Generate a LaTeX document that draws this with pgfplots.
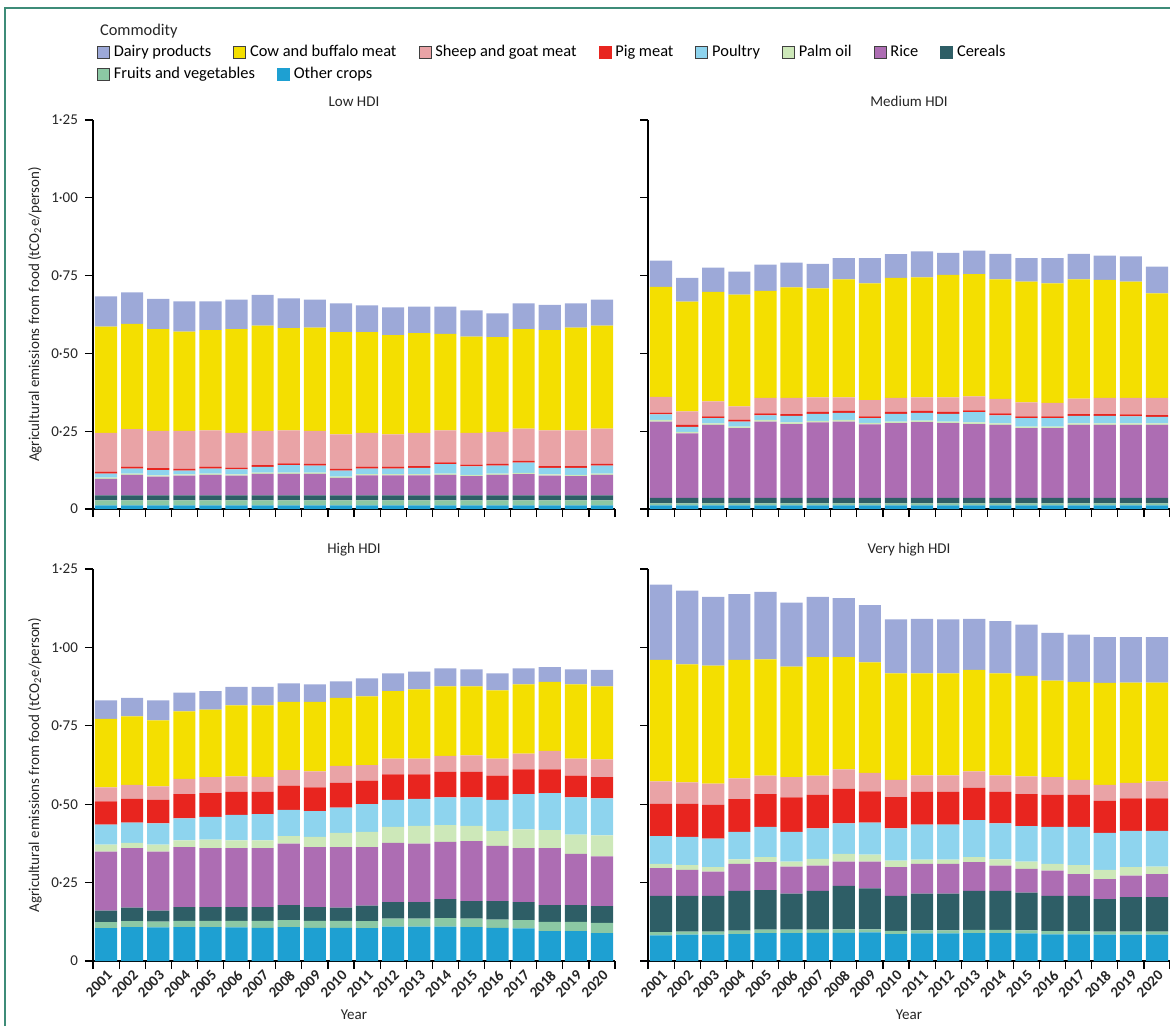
\documentclass[border=0pt]{standalone}
\usepackage{fontspec}
\setmainfont{Carlito}
\usepackage{pgfplots}
\usepackage{pgfplotstable}
\pgfplotsset{compat=1.18}

\definecolor{cDairy}{HTML}{9DA9D8}
\definecolor{cCow}{HTML}{F4DF00}
\definecolor{cSheep}{HTML}{E9A3A6}
\definecolor{cPig}{HTML}{E8251F}
\definecolor{cPoultry}{HTML}{8ED4EE}
\definecolor{cPalm}{HTML}{CDE8B9}
\definecolor{cRice}{HTML}{AD6DB3}
\definecolor{cCereals}{HTML}{2E5E66}
\definecolor{cFruit}{HTML}{8CC8A4}
\definecolor{cOther}{HTML}{1EA0D2}
\definecolor{frame}{HTML}{3E8C78}

\newcommand\chartfont{\fontsize{7.5}{9}\selectfont}
\newcommand\legfont{\fontsize{8.2}{9.5}\selectfont}

\pgfplotstableread{
x other fruit cereal rice palm poultry pig sheep cow dairy
1 .012 .016 .016 .053 .004 .013 .006 .125 .341 .097
2 .012 .016 .016 .066 .004 .016 .006 .121 .338 .101
3 .012 .016 .016 .060 .004 .017 .006 .120 .327 .097
4 .012 .016 .016 .063 .004 .012 .006 .122 .319 .097
5 .012 .016 .016 .066 .004 .016 .006 .117 .322 .092
6 .012 .016 .016 .063 .004 .016 .006 .112 .333 .095
7 .012 .016 .016 .069 .004 .018 .006 .110 .338 .099
8 .012 .016 .016 .069 .004 .024 .006 .106 .328 .096
9 .012 .016 .016 .069 .004 .022 .006 .106 .332 .090
10 .012 .016 .016 .056 .004 .019 .006 .111 .328 .093
11 .012 .016 .016 .064 .004 .018 .006 .109 .323 .086
12 .012 .016 .016 .064 .004 .018 .006 .104 .319 .089
13 .012 .016 .016 .064 .004 .020 .006 .107 .320 .085
14 .012 .016 .016 .066 .004 .030 .006 .103 .310 .087
15 .012 .016 .016 .062 .004 .027 .006 .102 .309 .084
16 .012 .016 .016 .066 .004 .025 .006 .103 .304 .077
17 .012 .016 .016 .068 .004 .033 .006 .103 .320 .083
18 .012 .016 .016 .063 .004 .021 .006 .115 .322 .081
19 .012 .016 .016 .062 .004 .022 .006 .115 .330 .078
20 .012 .016 .016 .066 .004 .025 .006 .113 .331 .084
}\tabLow

\pgfplotstableread{
x other fruit cereal rice palm poultry pig sheep cow dairy
1 .012 .006 .018 .245 .005 .018 .006 .050 .354 .084
2 .012 .006 .018 .207 .005 .016 .006 .044 .352 .077
3 .012 .006 .018 .234 .005 .017 .006 .048 .352 .078
4 .012 .006 .018 .224 .005 .016 .006 .043 .359 .074
5 .012 .006 .018 .245 .005 .015 .006 .050 .344 .084
6 .012 .006 .018 .237 .005 .021 .006 .052 .355 .080
7 .012 .006 .018 .242 .005 .023 .006 .047 .350 .079
8 .012 .006 .018 .245 .005 .023 .006 .044 .379 .068
9 .012 .006 .018 .236 .005 .015 .006 .052 .375 .081
10 .012 .006 .018 .240 .005 .025 .006 .045 .386 .076
11 .012 .006 .018 .243 .005 .025 .006 .044 .385 .084
12 .012 .006 .018 .240 .005 .025 .006 .047 .393 .071
13 .012 .006 .018 .237 .005 .033 .006 .045 .393 .075
14 .012 .006 .018 .234 .005 .026 .006 .047 .384 .082
15 .012 .006 .018 .224 .005 .027 .006 .045 .388 .075
16 .012 .006 .018 .224 .005 .027 .006 .043 .384 .081
17 .012 .006 .018 .234 .005 .024 .006 .050 .383 .082
18 .012 .006 .018 .234 .005 .024 .006 .052 .379 .078
19 .012 .006 .018 .234 .005 .023 .006 .053 .374 .081
20 .012 .006 .018 .234 .005 .021 .006 .055 .336 .086
}\tabMed

\pgfplotstableread{
x other fruit cereal rice palm poultry pig sheep cow dairy
1 .105 .019 .037 .188 .022 .064 .074 .045 .218 .059
2 .108 .019 .043 .190 .017 .064 .076 .045 .218 .059
3 .107 .019 .035 .188 .022 .068 .075 .043 .210 .064
4 .108 .020 .044 .191 .022 .070 .077 .049 .215 .060
5 .108 .020 .044 .188 .027 .073 .075 .051 .216 .059
6 .107 .021 .044 .188 .025 .081 .073 .050 .226 .059
7 .106 .022 .044 .188 .025 .083 .071 .048 .228 .059
8 .108 .022 .048 .196 .024 .084 .077 .050 .217 .059
9 .106 .022 .044 .191 .033 .082 .076 .051 .221 .056
10 .106 .022 .042 .193 .046 .080 .079 .054 .217 .053
11 .105 .022 .050 .186 .049 .088 .075 .050 .219 .057
12 .110 .025 .053 .189 .051 .086 .081 .050 .216 .056
13 .110 .025 .053 .186 .057 .086 .078 .050 .221 .057
14 .110 .027 .060 .183 .053 .089 .081 .051 .222 .057
15 .108 .027 .056 .191 .049 .091 .081 .053 .220 .054
16 .106 .026 .059 .176 .047 .100 .077 .054 .218 .054
17 .104 .026 .058 .172 .060 .112 .079 .050 .221 .051
18 .095 .030 .053 .182 .057 .118 .076 .059 .220 .047
19 .095 .030 .053 .164 .061 .119 .069 .054 .237 .048
20 .089 .033 .053 .159 .067 .118 .067 .057 .233 .052
}\tabHigh

\pgfplotstableread{
x other fruit cereal rice palm poultry pig sheep cow dairy
1 .082 .010 .116 .088 .014 .088 .103 .072 .387 .240
2 .084 .010 .114 .083 .015 .090 .105 .069 .376 .235
3 .084 .010 .114 .077 .014 .091 .108 .068 .376 .219
4 .086 .011 .127 .086 .014 .088 .104 .066 .378 .210
5 .089 .011 .126 .089 .016 .097 .104 .059 .371 .215
6 .089 .011 .115 .086 .016 .095 .110 .064 .353 .204
7 .090 .010 .124 .080 .022 .097 .107 .061 .378 .192
8 .090 .011 .139 .077 .025 .097 .110 .062 .358 .188
9 .091 .010 .131 .085 .022 .102 .100 .059 .352 .183
10 .086 .010 .112 .091 .021 .103 .100 .055 .339 .172
11 .088 .010 .117 .095 .013 .112 .104 .053 .325 .174
12 .088 .010 .117 .095 .013 .112 .104 .053 .325 .172
13 .089 .010 .125 .091 .016 .118 .103 .053 .323 .163
14 .089 .010 .125 .080 .020 .115 .100 .053 .325 .167
15 .088 .010 .120 .076 .023 .113 .102 .057 .320 .164
16 .085 .010 .113 .080 .022 .118 .102 .056 .308 .152
17 .085 .010 .113 .069 .029 .122 .102 .048 .312 .151
18 .084 .010 .103 .064 .030 .118 .102 .051 .325 .146
19 .084 .010 .110 .068 .027 .116 .104 .049 .320 .145
20 .084 .010 .110 .073 .024 .114 .104 .054 .315 .145
}\tabVH

\newcommand\stackbars[1]{%
  \addplot[fill=cOther,draw=none] table[x=x,y=other]{#1};
  \addplot[fill=cFruit,draw=none] table[x=x,y=fruit]{#1};
  \addplot[fill=cCereals,draw=none] table[x=x,y=cereal]{#1};
  \addplot[fill=cRice,draw=none] table[x=x,y=rice]{#1};
  \addplot[fill=cPalm,draw=none] table[x=x,y=palm]{#1};
  \addplot[fill=cPoultry,draw=none] table[x=x,y=poultry]{#1};
  \addplot[fill=cPig,draw=none] table[x=x,y=pig]{#1};
  \addplot[fill=cSheep,draw=none] table[x=x,y=sheep]{#1};
  \addplot[fill=cCow,draw=none] table[x=x,y=cow]{#1};
  \addplot[fill=cDairy,draw=none] table[x=x,y=dairy]{#1};
}

\pgfplotsset{
  hdi/.style={
    scale only axis, width=261pt,
    xmin=0.5, xmax=20.5, ymin=0, ymax=1.25,
    enlargelimits=false,
    ybar stacked, bar width=0.85,
    axis lines=left, axis line style={-, line width=0.6pt},
    tick align=outside, tick pos=left,
    major tick length=4pt, minor tick length=4pt,
    every tick/.style={black, line width=0.6pt},
    xtick={1,...,20},
    minor xtick={0.5,1.5,...,20.5},
    major x tick style={draw=none},
    ytick={0,0.25,0.5,0.75,1,1.25},
    tick label style={font=\chartfont, text=black!85},
    label style={font=\chartfont, text=black!85},
    title style={font=\chartfont, text=black!85, yshift=-3pt},
  },
  yleft/.style={
    yticklabels={0,0·25,0·50,0·75,1·00,1·25},
    ylabel={Agricultural emissions from food (tCO\textsubscript{2}e/person)},
    ylabel style={yshift=-2pt},
  },
  yright/.style={yticklabels={}},
  xtop/.style={height=194.5pt, xticklabels={}},
  xbot/.style={height=196pt,
    xticklabels={2001,2002,2003,2004,2005,2006,2007,2008,2009,2010,2011,2012,2013,2014,2015,2016,2017,2018,2019,2020},
    x tick label style={rotate=45, anchor=north east, inner sep=0pt, font=\chartfont\bfseries},
    xlabel={Year}, xlabel style={yshift=-2pt}},
  legax/.style={hide axis, scale only axis, width=10pt, height=10pt,
    xmin=0,xmax=1,ymin=0,ymax=1, anchor=north west,
    legend cell align=left,
    legend image code/.code={\draw[##1] (0pt,-3pt) rectangle (6pt,3pt);},
    legend style={at={(0,1)}, anchor=north west, draw=none, fill=none,
      inner sep=0pt, outer sep=0pt, font=\legfont,
      /tikz/every even column/.append style={column sep=9pt}}},
}

\begin{document}
\begin{tikzpicture}
\path[use as bounding box] (0pt,0pt) rectangle (585pt,-513pt);
\draw[frame, line width=0.8pt] (2.5pt,-513pt) -- (2.5pt,-4pt) -- (585pt,-4pt);
\node[anchor=base west, font=\legfont, text=black!85] at (46.5pt,-18pt) {Commodity};

\begin{axis}[legax, at={(48.5pt,-20.5pt)}, legend columns=8]
\addlegendimage{fill=cDairy, draw=black!75, line width=0.4pt}\addlegendentry{Dairy products}
\addlegendimage{fill=cCow, draw=black!75, line width=0.4pt}\addlegendentry{Cow and buffalo meat}
\addlegendimage{fill=cSheep, draw=black!75, line width=0.4pt}\addlegendentry{Sheep and goat meat}
\addlegendimage{fill=cPig, draw=cPig, line width=0.4pt}\addlegendentry{Pig meat}
\addlegendimage{fill=cPoultry, draw=black!75, line width=0.4pt}\addlegendentry{Poultry}
\addlegendimage{fill=cPalm, draw=black!75, line width=0.4pt}\addlegendentry{Palm oil}
\addlegendimage{fill=cRice, draw=black!75, line width=0.4pt}\addlegendentry{Rice}
\addlegendimage{fill=cCereals, draw=cCereals, line width=0.4pt}\addlegendentry{Cereals}
\end{axis}
\begin{axis}[legax, at={(48.5pt,-31.5pt)}, legend columns=2]
\addlegendimage{fill=cFruit, draw=black!75, line width=0.4pt}\addlegendentry{Fruits and vegetables}
\addlegendimage{fill=cOther, draw=cOther, line width=0.4pt}\addlegendentry{Other crops}
\end{axis}

\begin{axis}[hdi, xtop, yleft, at={(46.5pt,-254.5pt)}, anchor=south west, title={Low HDI}]
\stackbars{\tabLow}
\end{axis}
\begin{axis}[hdi, xtop, yright, at={(324pt,-254.5pt)}, anchor=south west, title={Medium HDI}]
\stackbars{\tabMed}
\end{axis}
\begin{axis}[hdi, xbot, yleft, at={(46.5pt,-480.5pt)}, anchor=south west, title={High HDI}]
\stackbars{\tabHigh}
\end{axis}
\begin{axis}[hdi, xbot, yright, at={(324pt,-480.5pt)}, anchor=south west, title={Very high HDI}]
\stackbars{\tabVH}
\end{axis}
\end{tikzpicture}
\end{document}
